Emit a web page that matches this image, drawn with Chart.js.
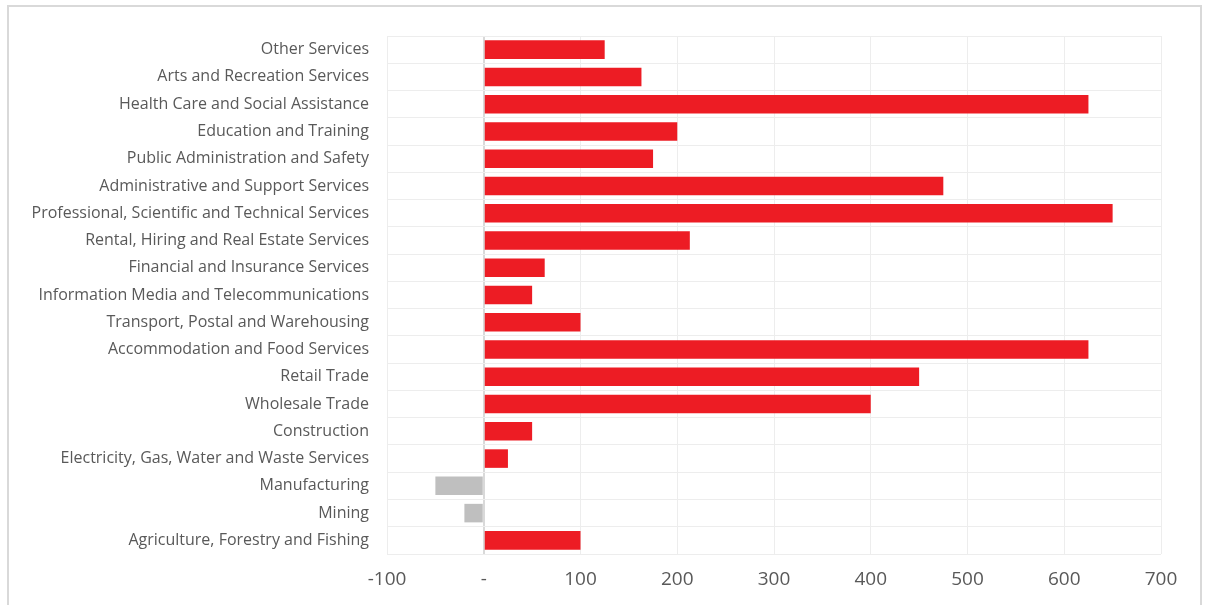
<!DOCTYPE html>
<html>
<head>
<meta charset="utf-8">
<script src="https://cdn.jsdelivr.net/npm/chart.js@4"></script>
<style>
  html, body { margin: 0; padding: 0; background: #fff; }
  #frame { position: absolute; left: 7px; top: 5px; width: 1195px; height: 640px; border: 2px solid #D9D9D9; box-sizing: border-box; }
  #wrap { position: absolute; left: 0; top: 0; width: 1205px; height: 605px; }
</style>
</head>
<body>
<div id="frame"></div>
<div id="wrap"><canvas id="myChart"></canvas></div>
<script>
const industries = [
  'Other Services',
  'Arts and Recreation Services',
  'Health Care and Social Assistance',
  'Education and Training',
  'Public Administration and Safety',
  'Administrative and Support Services',
  'Professional, Scientific and Technical Services',
  'Rental, Hiring and Real Estate Services',
  'Financial and Insurance Services',
  'Information Media and Telecommunications',
  'Transport, Postal and Warehousing',
  'Accommodation and Food Services',
  'Retail Trade',
  'Wholesale Trade',
  'Construction',
  'Electricity, Gas, Water and Waste Services',
  'Manufacturing',
  'Mining',
  'Agriculture, Forestry and Fishing'
];
const changeValues = [125, 163, 625, 200, 175, 475, 650, 213, 63, 50, 100, 625, 450, 400, 50, 25, -50, -20, 100];
const xTicks = [-100, 0, 100, 200, 300, 400, 500, 600, 700];

const labelColor = '#595959';

new Chart(
	document.getElementById('myChart'),
	{
	  type: 'bar',
	  data: {
		labels: industries,
		datasets: [
		  {
			label: 'Change',
			data: changeValues,
			backgroundColor: ctx => (ctx.raw < 0 ? '#BFBFBF' : '#ED1C24'),
			borderWidth: 0,
			categoryPercentage: 1,
			barPercentage: 0.68
		  }
		]
	  },
	  options: {
		indexAxis: 'y',
		responsive: true,
		maintainAspectRatio: false,
		animation: false,
		layout: { padding: { top: 36, right: 44, bottom: 0, left: 10 } },
		plugins: {
		  legend: { display: false },
		  tooltip: { enabled: false }
		},
		scales: {
		  x: {
			type: 'linear',
			min: -100,
			max: 700,
			afterBuildTicks: scale => { scale.ticks = xTicks.map(v => ({ value: v })); },
			afterFit: scale => { scale.height = 51; },
			border: { display: false },
			grid: {
			  drawTicks: false,
			  color: ctx => (ctx.tick && ctx.tick.value === 0 ? '#D9D9D9' : '#EDEDED'),
			  lineWidth: ctx => (ctx.tick && ctx.tick.value === 0 ? 2 : 1)
			},
			ticks: {
			  padding: 14,
			  color: labelColor,
			  font: { family: 'Open Sans', size: 19 },
			  callback: v => (v === 0 ? '-' : String(v))
			}
		  },
		  y: {
			afterFit: scale => { scale.width = 377; },
			border: { display: false },
			grid: {
			  drawTicks: false,
			  color: '#EDEDED',
			  lineWidth: 1
			},
			ticks: {
			  padding: 18,
			  color: labelColor,
			  font: { family: 'Open Sans', size: 16 }
			}
		  }
		}
	  }
	}
);
</script>
</body>
</html>
